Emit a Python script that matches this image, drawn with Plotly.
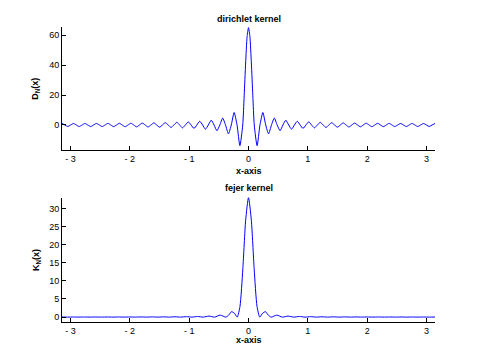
import plotly.graph_objects as go
from plotly.subplots import make_subplots

# ---- data (x >= 0 half; both kernels are even functions) ----
D_X_HALF = [0, 0.024, 0.048, 0.073, 0.097, 0.145, 0.193, 0.242, 0.290, 0.338, 0.387,
            0.435, 0.483, 0.532, 0.580, 0.628, 0.677, 0.725, 0.773, 0.822, 0.870,
            0.918, 0.967, 1.015, 1.063, 1.112, 1.160, 1.208, 1.257, 1.305, 1.353,
            1.402, 1.450, 1.498, 1.547, 1.595, 1.643, 1.692, 1.740, 1.788, 1.837,
            1.885, 1.933, 1.982, 2.030, 2.078, 2.127, 2.175, 2.223, 2.272, 2.320,
            2.368, 2.417, 2.465, 2.513, 2.562, 2.610, 2.658, 2.707, 2.755, 2.803,
            2.852, 2.900, 2.948, 2.997, 3.045, 3.093, 3.142]
D_Y_HALF = [65, 58.9, 41.4, 19.5, 0,
            -13.8, 0, 8.3, 0, -5.9, 0, 4.6, 0, -3.8, 0, 3.2, 0, -2.8, 0, 2.5, 0,
            -2.3, 0, 2.1, 0, -1.9, 0, 1.8, 0, -1.65, 0, 1.55, 0, -1.47, 0, 1.4, 0,
            -1.34, 0, 1.28, 0, -1.24, 0, 1.19, 0, -1.16, 0, 1.13, 0, -1.1, 0, 1.08, 0,
            -1.06, 0, 1.04, 0, -1.03, 0, 1.02, 0, -1.01, 0, 1.0, 0, -1.0, 0, 1.0]

K_X_HALF = [0, 0.048, 0.095, 0.143, 0.190, 0.238, 0.286, 0.333, 0.381,
            0.476, 0.571, 0.666, 0.762, 0.857, 0.952, 1.047, 1.142, 1.238, 1.333,
            1.428, 1.523, 1.619, 1.714, 1.809, 1.904, 2.000, 2.095, 2.190, 2.285,
            2.380, 2.475, 2.570, 2.666, 2.761, 2.856, 2.951, 3.046, 3.142]
K_Y_HALF = [33, 26.7, 13.4, 3.0, 0, 1.08, 1.5, 0.55, 0,
            0.545, 0, 0.28, 0, 0.175, 0, 0.121, 0, 0.09, 0,
            0.071, 0, 0.058, 0, 0.049, 0, 0.043, 0, 0.038, 0,
            0.035, 0, 0.033, 0, 0.031, 0, 0.031, 0, 0.03]

X_TICKS = [-3, -2, -1, 0, 1, 2, 3]
X_TICK_TEXT = ["- 3", "- 2", "- 1", "0", "1", "2", "3"]
D_Y_TICKS = [0, 20, 40, 60]
K_Y_TICKS = [0, 5, 10, 15, 20, 25, 30]

TITLES = ["dirichlet kernel", "fejer kernel"]
XLABEL = "x-axis"
YLABELS = ["D<sub>N</sub>(x)", "K<sub>N</sub>(x)"]

assert len(D_X_HALF) == len(D_Y_HALF) and len(K_X_HALF) == len(K_Y_HALF)


def mirror(xs, ys):
    return ([-v for v in reversed(xs[1:])] + list(xs),
            list(reversed(ys[1:])) + list(ys))


dx, dy = mirror(D_X_HALF, D_Y_HALF)
kx, ky = mirror(K_X_HALF, K_Y_HALF)

fig = make_subplots(rows=2, cols=1)
line = dict(color="#0000ff", width=1, shape="spline", smoothing=0.6)
fig.add_trace(go.Scatter(x=dx, y=dy, mode="lines", line=line, hoverinfo="skip"), row=1, col=1)
fig.add_trace(go.Scatter(x=kx, y=ky, mode="lines", line=line, hoverinfo="skip"), row=2, col=1)

FONT = "Liberation Sans, Arial, sans-serif"
axis_common = dict(showgrid=False, zeroline=False, showline=True, linecolor="black",
                   linewidth=1, ticks="inside", ticklen=4, tickcolor="black",
                   tickwidth=1, mirror=False, tickfont=dict(family=FONT, size=9, color="black"))

fig.update_xaxes(range=[-3.1416, 3.1416], tickvals=X_TICKS, ticktext=X_TICK_TEXT, **axis_common)
fig.update_yaxes(**axis_common)
fig.update_yaxes(range=[-16.7, 65.4], tickvals=D_Y_TICKS, row=1, col=1)
fig.update_yaxes(range=[-1.35, 33.0], tickvals=K_Y_TICKS, row=2, col=1)

fig.update_layout(
    width=480, height=361,
    margin=dict(l=62, r=45, t=27, b=39),
    paper_bgcolor="white", plot_bgcolor="white",
    showlegend=False,
    xaxis=dict(domain=[0, 1]), xaxis2=dict(domain=[0, 1]),
    yaxis=dict(domain=[0.583, 1.0]), yaxis2=dict(domain=[0.0, 0.422]),
)

bold = dict(family=FONT, size=9, color="black")
ann = []
# titles
ann.append(dict(text="<b>%s</b>" % TITLES[0], x=0.5, y=1.027, xref="paper", yref="paper",
                showarrow=False, xanchor="center", yanchor="middle", font=bold))
ann.append(dict(text="<b>%s</b>" % TITLES[1], x=0.5, y=0.454, xref="paper", yref="paper",
                showarrow=False, xanchor="center", yanchor="middle", font=bold))
# x labels
ann.append(dict(text="<b>%s</b>" % XLABEL, x=0.5, y=0.513, xref="paper", yref="paper",
                showarrow=False, xanchor="center", yanchor="middle", font=bold))
ann.append(dict(text="<b>%s</b>" % XLABEL, x=0.5, y=-0.060, xref="paper", yref="paper",
                showarrow=False, xanchor="center", yanchor="middle", font=bold))
# y labels
ann.append(dict(text="<b>%s</b>" % YLABELS[0], x=-0.07, y=0.79, xref="paper", yref="paper",
                showarrow=False, xanchor="center", yanchor="middle", textangle=-90, font=bold))
ann.append(dict(text="<b>%s</b>" % YLABELS[1], x=-0.07, y=0.21, xref="paper", yref="paper",
                showarrow=False, xanchor="center", yanchor="middle", textangle=-90, font=bold))
fig.update_layout(annotations=ann)

fig.write_html("out.html", config={"displayModeBar": False})
